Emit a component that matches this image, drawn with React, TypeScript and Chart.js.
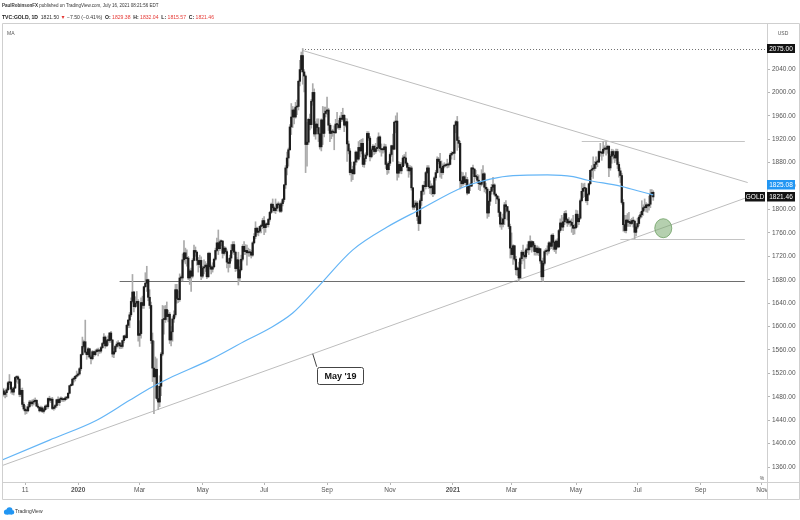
import React, { useEffect, useRef } from 'react';
import { Chart, registerables } from 'chart.js';

Chart.register(...registerables);

const FONT = '"Liberation Sans", Arial, sans-serif';

// Daily sessions, index 0 = 18 Oct 2019 ... index 455 = 16 Jul 2021
const OPEN = [
  1493,1490,1484,1487,1492,1504,1505,1493,1488,1495,
  1513,1514,1510,1484,1491,1467,1459,1456,1456,1463,1471,1468,1471,1472,1474,1464,1462,1456,1461,1455,1458,
  1464,1463,1477,1474,1476,1460,1462,1465,1475,1470,1476,1476,1475,1475,1478,1478,1486,1499,1500,1510,1511,1515,
  1517,1519,1528,1552,1566,1574,1556,1552,1562,1548,1545,1557,1552,1557,1560,1558,1558,1564,1571,1582,1567,1576,1576,
  1589,1577,1553,1557,1566,1570,1572,1567,1566,1576,1584,1581,1602,1611,1620,1643,1659,1634,1640,1643,
  1585,1588,1641,1636,1668,1674,1680,1650,1636,1576,1529,1514,1527,1477,1471,1498,1553,1612,1612,1629,1617,1621,
  1577,1591,1613,1620,1663,1648,1646,1683,1683,1714,1726,1716,1717,1683,1695,1686,1713,1730,1727,1713,1706,1713,
  1686,1700,1702,1705,1685,1725,1702,1698,1702,1715,1730,1743,1733,1745,1746,1725,1734,1728,1710,1708,1717,
  1730,1740,1727,1699,1714,1683,1697,1715,1737,1728,1730,1726,1726,1727,1722,1743,1754,1768,1761,1763,1771,1772,
  1781,1769,1775,1774,1783,1795,1809,1803,1798,1802,1809,1808,1797,1810,1817,1842,1871,1888,1902,1941,1958,1970,1958,
  1975,1976,2019,2039,2063,2035,2028,1911,1915,1954,1945,1985,2000,1929,1946,1940,1929,1907,1953,1930,1964,
  1968,1970,1944,1930,1934,1932,1931,1946,1945,1940,1956,1954,1961,1944,1950,1912,1900,1863,1868,1861,1881,1898,
  1886,1906,1900,1913,1877,1887,1893,1930,1922,1890,1902,1908,1899,1904,1906,1924,1904,1902,1902,1907,1877,1868,
  1879,1894,1909,1903,1949,1951,1862,1877,1866,1873,1888,1888,1879,1872,1866,1871,1837,1804,1807,1811,1788,
  1776,1815,1831,1841,1839,1863,1871,1839,1837,1840,1827,1854,1863,1886,1882,1871,1863,1874,1875,1876,1876,1877,1893,
  1896,1896,1944,1950,1918,1913,1849,1844,1856,1846,1851,1828,1840,1840,1871,1869,1856,1856,1850,1844,1843,
  1848,1861,1838,1835,1794,1814,1831,1838,1842,1826,1823,1818,1795,1775,1775,1784,1808,1805,1797,1771,
  1734,1723,1738,1715,1697,1700,1683,1716,1727,1722,1719,1731,1731,1745,1736,1745,1739,1728,1734,1726,1733,1712,1685,
  1708,1728,1729,1729,1743,1737,1756,1744,1732,1746,1736,1764,1777,1770,1779,1793,1783,1777,1780,1778,1773,1768,
  1769,1792,1779,1785,1815,1831,1836,1836,1815,1826,1844,1867,1869,1870,1877,1881,1881,1899,1897,1896,1903,
  1905,1903,1908,1871,1891,1899,1893,1888,1899,1877,1866,1858,1812,1774,1764,1782,1778,1779,1776,1781,1780,1761,
  1770,1776,1787,1791,1797,1803,1803,1808,1806,1809,1826,1829.38,
];

const HIGH = [
  1496,1494,1490,1495,1506,1518,1506,1496,1497,1514,
  1516,1516,1511,1494,1495,1470,1465,1463,1467,1474,1474,1475,1476,1478,1475,1468,1463,1464,1463,1461,1466,
  1467,1478,1481,1478,1479,1464,1467,1476,1480,1478,1480,1479,1477,1480,1480,1487,1499,1502,1512,1514,1516,1524,
  1521,1530,1553,1582,1577,1611,1558,1564,1563,1551,1559,1558,1560,1562,1563,1561,1566,1573,1588,1584,1578,1584,1590,
  1592,1578,1563,1568,1574,1576,1573,1571,1577,1585,1586,1604,1612,1624,1649,1689,1660,1651,1660,1646,
  1610,1649,1652,1669,1692,1703,1681,1663,1642,1589,1575,1548,1545,1498,1516,1556,1636,1635,1636,1642,1628,1624,
  1600,1617,1627,1672,1672,1661,1690,1687,1724,1747,1734,1731,1720,1698,1700,1716,1739,1736,1729,1718,1722,1719,
  1703,1714,1711,1708,1727,1727,1705,1709,1717,1734,1751,1765,1748,1748,1747,1737,1736,1731,1716,1722,1740,
  1745,1745,1729,1718,1727,1702,1722,1740,1745,1740,1739,1734,1732,1730,1745,1759,1779,1770,1768,1772,1775,1785,
  1788,1777,1777,1785,1797,1811,1818,1806,1818,1811,1813,1811,1813,1819,1843,1875,1898,1905,1945,1981,1976,1973,1983,
  1987,2021,2055,2069,2075,2039,2030,1949,1956,1963,1988,2015,2006,1950,1955,1955,1930,1955,1976,1975,1975,
  1992,1973,1947,1944,1937,1943,1954,1966,1952,1960,1966,1973,1962,1956,1955,1917,1904,1881,1874,1882,1900,1899,
  1916,1918,1920,1921,1895,1897,1933,1933,1925,1905,1911,1910,1913,1922,1931,1926,1912,1905,1912,1911,1880,1882,
  1897,1910,1929,1951,1960,1965,1882,1880,1880,1892,1894,1898,1881,1876,1875,1874,1838,1815,1815,1814,1790,
  1818,1833,1842,1848,1865,1875,1875,1849,1844,1841,1856,1867,1890,1889,1896,1883,1878,1880,1878,1886,1880,1896,1899,
  1898,1945,1952,1959,1924,1917,1864,1863,1858,1863,1855,1842,1845,1872,1876,1870,1867,1860,1859,1847,1868,
  1875,1863,1845,1838,1815,1834,1843,1855,1844,1828,1824,1822,1797,1786,1792,1812,1815,1805,1799,1775,
  1760,1740,1739,1720,1702,1710,1718,1730,1739,1728,1734,1740,1746,1755,1747,1745,1742,1738,1738,1736,1733,1713,1717,
  1731,1733,1738,1745,1745,1758,1759,1746,1748,1750,1766,1784,1790,1786,1797,1798,1785,1786,1782,1784,1790,1775,
  1799,1798,1789,1818,1845,1844,1845,1838,1828,1845,1867,1875,1890,1882,1890,1885,1900,1913,1900,1916,1909,
  1916,1910,1909,1894,1903,1902,1900,1903,1903,1881,1871,1862,1817,1790,1790,1793,1795,1783,1785,1787,1782,1772,
  1785,1790,1795,1815,1808,1818,1812,1810,1823,1834,1834,1832.04,
];

const LOW = [
  1484,1481,1478,1480,1490,1501,1486,1484,1483,1494,
  1505,1503,1480,1480,1463,1456,1450,1451,1454,1461,1465,1464,1466,1468,1463,1460,1454,1455,1453,1452,1456,
  1459,1460,1471,1470,1458,1457,1459,1462,1466,1465,1472,1472,1472,1473,1475,1477,1485,1498,1499,1505,1507,1513,
  1515,1517,1525,1551,1563,1553,1544,1548,1546,1536,1543,1549,1550,1556,1550,1554,1555,1562,1570,1563,1566,1568,1573,
  1573,1548,1547,1555,1563,1565,1562,1562,1563,1572,1578,1580,1598,1598,1617,1640,1625,1632,1635,1575,
  1566,1580,1631,1631,1667,1660,1644,1631,1571,1506,1451,1478,1474,1458,1463,1482,1550,1587,1607,1611,1608,1571,
  1567,1575,1607,1616,1640,1641,1643,1679,1678,1710,1707,1703,1680,1672,1660,1683,1712,1720,1705,1693,1701,1680,
  1683,1690,1694,1682,1684,1698,1690,1693,1700,1713,1728,1723,1730,1738,1717,1722,1725,1700,1693,1701,1712,
  1725,1723,1694,1696,1671,1677,1695,1712,1723,1723,1705,1720,1720,1717,1720,1741,1750,1757,1755,1760,1760,1767,
  1757,1761,1770,1770,1780,1793,1797,1795,1793,1797,1803,1795,1795,1806,1813,1836,1859,1874,1901,1928,1940,1946,1956,
  1962,1970,2011,2035,2014,2001,1863,1874,1911,1936,1939,1978,1925,1920,1934,1916,1903,1900,1911,1924,1958,
  1962,1935,1916,1921,1925,1902,1930,1938,1937,1937,1950,1951,1933,1941,1882,1895,1859,1848,1851,1860,1876,1881,
  1884,1890,1895,1873,1872,1882,1891,1918,1883,1888,1893,1894,1896,1900,1900,1898,1891,1896,1898,1870,1860,1862,
  1875,1891,1882,1902,1931,1850,1855,1862,1861,1873,1875,1876,1866,1855,1860,1833,1800,1800,1803,1781,1764,
  1775,1807,1825,1826,1835,1861,1836,1827,1825,1822,1825,1850,1862,1878,1855,1853,1860,1871,1873,1871,1872,1876,1886,
  1894,1885,1931,1901,1906,1835,1837,1841,1843,1842,1825,1827,1832,1839,1861,1847,1853,1845,1834,1832,1840,
  1846,1830,1828,1785,1788,1807,1826,1834,1823,1810,1816,1788,1770,1766,1770,1774,1794,1782,1767,1717,
  1717,1706,1712,1688,1687,1677,1683,1707,1712,1699,1716,1726,1723,1731,1727,1730,1722,1722,1722,1721,1708,1679,1677,
  1705,1724,1722,1725,1732,1733,1731,1728,1725,1734,1735,1761,1765,1764,1774,1777,1771,1774,1771,1761,1757,1758,
  1767,1770,1774,1783,1813,1820,1822,1812,1808,1824,1842,1856,1853,1866,1870,1873,1880,1891,1884,1891,1900,
  1893,1896,1856,1867,1879,1886,1880,1883,1870,1855,1846,1809,1763,1761,1760,1771,1771,1771,1774,1770,1750,1755,
  1767,1772,1784,1787,1790,1799,1796,1795,1799,1803,1822,1815.57,
];

const CLOSE = [
  1490,1484,1487,1492,1504,1505,1493,1488,1495,1513,
  1514,1510,1484,1491,1467,1459,1456,1456,1463,1471,1468,1471,1472,1474,1464,1462,1456,1461,1455,1458,1464,
  1463,1477,1474,1476,1460,1462,1465,1475,1470,1476,1476,1475,1475,1478,1478,1486,1499,1500,1510,1511,1515,1517,
  1519,1528,1552,1566,1574,1556,1552,1562,1548,1545,1557,1552,1557,1560,1558,1558,1564,1571,1582,1567,1576,1576,1589,
  1577,1553,1557,1566,1570,1572,1567,1566,1576,1584,1581,1602,1611,1620,1643,1659,1634,1640,1643,1585,
  1588,1641,1636,1668,1674,1680,1650,1636,1576,1529,1514,1527,1477,1471,1498,1553,1612,1612,1629,1617,1621,1577,
  1591,1613,1620,1663,1648,1646,1683,1683,1714,1726,1716,1717,1683,1695,1686,1713,1730,1727,1713,1706,1713,1686,
  1700,1702,1705,1685,1725,1702,1698,1702,1715,1730,1743,1733,1745,1746,1725,1734,1728,1710,1708,1717,1730,
  1740,1727,1699,1714,1683,1697,1715,1737,1728,1730,1726,1726,1727,1722,1743,1754,1768,1761,1763,1771,1772,1781,
  1769,1775,1774,1783,1795,1809,1803,1798,1802,1809,1808,1797,1810,1817,1842,1871,1888,1902,1941,1958,1970,1958,1975,
  1976,2019,2039,2063,2035,2028,1911,1915,1954,1945,1985,2000,1929,1946,1940,1929,1907,1953,1930,1964,1968,
  1970,1944,1930,1934,1932,1931,1946,1945,1940,1956,1954,1961,1944,1950,1912,1900,1863,1868,1861,1881,1898,1886,
  1906,1900,1913,1877,1887,1893,1930,1922,1890,1902,1908,1899,1904,1906,1924,1904,1902,1902,1907,1877,1868,1879,
  1894,1909,1903,1949,1951,1862,1877,1866,1873,1888,1888,1879,1872,1866,1871,1837,1804,1807,1811,1788,1776,
  1815,1831,1841,1839,1863,1871,1839,1837,1840,1827,1854,1863,1886,1882,1871,1863,1874,1875,1876,1876,1877,1893,1896,
  1896,1944,1950,1918,1913,1849,1844,1856,1846,1851,1828,1840,1840,1871,1869,1856,1856,1850,1844,1843,1848,
  1861,1838,1835,1794,1814,1831,1838,1842,1826,1823,1818,1795,1775,1775,1784,1808,1805,1797,1771,1734,
  1723,1738,1715,1697,1700,1683,1716,1727,1722,1719,1731,1731,1745,1736,1745,1739,1728,1734,1726,1733,1712,1685,1708,
  1728,1729,1729,1743,1737,1756,1744,1732,1746,1736,1764,1777,1770,1779,1793,1783,1777,1780,1778,1773,1768,1769,
  1792,1779,1785,1815,1831,1836,1836,1815,1826,1844,1867,1869,1870,1877,1881,1881,1899,1897,1896,1903,1905,
  1903,1908,1871,1891,1899,1893,1888,1899,1877,1866,1858,1812,1774,1764,1782,1778,1779,1776,1781,1780,1761,1770,
  1776,1787,1791,1797,1803,1803,1808,1806,1809,1826,1829,1821.46,
];

// MA line (session index -> price)
const MA_IDX = [0, 33, 66, 89, 105, 117, 145, 171, 187, 203, 220, 245, 269, 292, 322, 341, 357, 381, 399, 409, 432, 444, 455];
const MA_VAL = [1372, 1406, 1440, 1474, 1497, 1512, 1543, 1577, 1597, 1623, 1666, 1731, 1770, 1800, 1838, 1852, 1858, 1859, 1856, 1850, 1840, 1832, 1825];

const PRICE_TICKS = [1360, 1400, 1440, 1480, 1520, 1560, 1600, 1640, 1680, 1720, 1760, 1800, 1840, 1880, 1920, 1960, 2000, 2040];
const TIME_TICK_IDX = [16, 53, 96, 140, 183, 227, 271, 315, 356, 401, 444, 488, 531];
const TIME_TICK_LABELS = ['11', '2020', 'Mar', 'May', 'Jul', 'Sep', 'Nov', '2021', 'Mar', 'May', 'Jul', 'Sep', 'Nov'];

// drawings (session index, price)
const UPPER_TREND = [[209.5, 2072], [521, 1846]];
const LOWER_TREND = [[0.5, 1363], [520, 1820]];
const LEVELS = [
  { from: 82, to: 519, price: 1678, color: '#6e6e6e' },
  { from: 405, to: 519, price: 1917, color: '#c4c4c4' },
  { from: 432, to: 519, price: 1750, color: '#c4c4c4' },
];
const ATH = { from: 209.5, price: 2075, label: '2075.00' };
const TARGET = { x: 462, price: 1768 };
const CALLOUT = { x: 217, text: "May '19" };
const MA_LAST = 1825.08;
const LAST_PRICE = 1821.46;

function runs(ctx: CanvasRenderingContext2D, x: number, y: number, parts: any[]) {
  for (const p of parts) {
    ctx.font = `${p.b ? 'bold ' : ''}${p.s}px ${FONT}`;
    ctx.fillStyle = p.c;
    ctx.fillText(p.t, x, y);
    x += ctx.measureText(p.t).width;
  }
}

function box(ctx: CanvasRenderingContext2D, x: number, yc: number, w: number, h: number, bg: string, text: string) {
  ctx.fillStyle = bg;
  ctx.fillRect(x, Math.round(yc - h / 2), w, h);
  ctx.fillStyle = '#ffffff';
  ctx.font = `6.5px ${FONT}`;
  ctx.textAlign = 'center';
  ctx.textBaseline = 'middle';
  ctx.fillText(text, x + w / 2, Math.round(yc - h / 2) + h / 2 + 0.5);
}

const overlay = {
  id: 'overlay',
  beforeDatasetsDraw(chart: any) {
    const { ctx, chartArea: a } = chart;
    const xs = chart.scales.x, ys = chart.scales.y;
    const px = (v: number) => xs.getPixelForValue(v);
    const py = (v: number) => ys.getPixelForValue(v);
    ctx.save();
    ctx.beginPath();
    ctx.rect(a.left, a.top, a.right - a.left, a.bottom - a.top);
    ctx.clip();
    ctx.lineWidth = 1;
    ctx.strokeStyle = '#bdbdbd';
    for (const t of [UPPER_TREND, LOWER_TREND]) {
      ctx.beginPath();
      ctx.moveTo(px(t[0][0]), py(t[0][1]));
      ctx.lineTo(px(t[1][0]), py(t[1][1]));
      ctx.stroke();
    }
    for (const l of LEVELS) {
      ctx.strokeStyle = l.color;
      ctx.lineWidth = 1.2;
      const yy = Math.round(py(l.price)) + 0.5;
      ctx.beginPath();
      ctx.moveTo(px(l.from), yy);
      ctx.lineTo(px(l.to), yy);
      ctx.stroke();
    }
    // all-time-high dotted line
    ctx.strokeStyle = '#707070';
    ctx.lineWidth = 1;
    ctx.setLineDash([1, 2]);
    const ya = Math.round(py(ATH.price)) + 0.5;
    ctx.beginPath();
    ctx.moveTo(px(ATH.from), ya);
    ctx.lineTo(a.right, ya);
    ctx.stroke();
    ctx.setLineDash([]);
    // target ellipse
    ctx.fillStyle = 'rgba(120,170,110,0.55)';
    ctx.strokeStyle = 'rgba(110,160,100,0.8)';
    ctx.beginPath();
    ctx.ellipse(px(TARGET.x), py(TARGET.price), 8.5, 9.5, 0, 0, Math.PI * 2);
    ctx.fill();
    ctx.stroke();
    ctx.restore();
  },
  afterDraw(chart: any) {
    const { ctx, chartArea: a } = chart;
    const xs = chart.scales.x, ys = chart.scales.y;
    const px = (v: number) => xs.getPixelForValue(v);
    const py = (v: number) => ys.getPixelForValue(v);
    ctx.save();
    // hide overflow of time labels under the price scale
    ctx.fillStyle = '#ffffff';
    ctx.fillRect(a.right + 0.5, a.bottom + 0.5, 40, 17);
    // frame
    ctx.strokeStyle = '#cfcfcf';
    ctx.lineWidth = 1;
    ctx.beginPath();
    ctx.moveTo(2.5, 23.5); ctx.lineTo(799.5, 23.5); ctx.lineTo(799.5, 499.5); ctx.lineTo(2.5, 499.5); ctx.closePath();
    ctx.moveTo(2.5, a.bottom + 0.5); ctx.lineTo(799.5, a.bottom + 0.5);
    ctx.moveTo(a.right + 0.5, 23.5); ctx.lineTo(a.right + 0.5, 499.5);
    ctx.stroke();

    // header
    ctx.textAlign = 'left';
    ctx.textBaseline = 'middle';
    runs(ctx, 2, 6, [
      { t: 'PaulRobinsonFX', b: true, s: 4.5, c: '#333' },
      { t: ' published on TradingView.com, July 16, 2021 08:21:56 EDT', s: 4.5, c: '#333' },
    ]);
    const red = '#e53935';
    runs(ctx, 2, 17.5, [
      { t: 'TVC:GOLD, 1D', b: true, s: 5.1, c: '#222' },
      { t: '  1821.50 ', s: 5.1, c: '#333' },
      { t: '▼', s: 5.1, c: red },
      { t: ' −7.50 (−0.41%)  ', s: 5.1, c: '#333' },
      { t: 'O:', b: true, s: 5.1, c: '#222' },
      { t: ' 1829.38  ', s: 5.1, c: red },
      { t: 'H:', b: true, s: 5.1, c: '#222' },
      { t: ' 1832.04  ', s: 5.1, c: red },
      { t: 'L:', b: true, s: 5.1, c: '#222' },
      { t: ' 1815.57  ', s: 5.1, c: red },
      { t: 'C:', b: true, s: 5.1, c: '#222' },
      { t: ' 1821.46', s: 5.1, c: red },
    ]);
    ctx.font = `5px ${FONT}`;
    ctx.fillStyle = '#555';
    ctx.fillText('MA', 7, 34);
    ctx.textAlign = 'center';
    ctx.fillText('USD', 783, 34);
    ctx.fillText('%', 762, 479);

    // price labels on the scale
    box(ctx, a.right, py(ATH.price), 28, 9, '#131313', ATH.label);
    const yl = py(LAST_PRICE);
    box(ctx, a.right, yl - 12, 28, 9.5, '#2196f3', MA_LAST.toFixed(2));
    box(ctx, a.right, yl, 28, 9.5, '#131313', LAST_PRICE.toFixed(2));
    box(ctx, a.right - 22, yl, 20, 9.5, '#131313', 'GOLD');

    // callout on the long-term trend line
    const t0 = LOWER_TREND[0], t1 = LOWER_TREND[1];
    const ty = t0[1] + (CALLOUT.x - t0[0]) * (t1[1] - t0[1]) / (t1[0] - t0[0]);
    const ax = px(CALLOUT.x), ay = py(ty);
    ctx.strokeStyle = '#444';
    ctx.lineWidth = 1;
    ctx.beginPath();
    ctx.moveTo(ax, ay); ctx.lineTo(ax + 4, ay + 13);
    ctx.stroke();
    ctx.fillStyle = '#ffffff';
    ctx.beginPath();
    ctx.roundRect(Math.round(ax + 4) + 0.5, Math.round(ay + 13) + 0.5, 46, 17, 2);
    ctx.fill();
    ctx.stroke();
    ctx.fillStyle = '#111';
    ctx.font = `bold 9px ${FONT}`;
    ctx.textAlign = 'center';
    ctx.fillText(CALLOUT.text, Math.round(ax + 4) + 23.5, Math.round(ay + 13) + 9.5);

    // TradingView logo
    ctx.fillStyle = '#2196f3';
    ctx.beginPath();
    ctx.arc(6.5, 512, 2.6, 0, Math.PI * 2);
    ctx.arc(9.5, 510.2, 3, 0, Math.PI * 2);
    ctx.arc(12, 512.2, 2.3, 0, Math.PI * 2);
    ctx.fill();
    ctx.fillRect(6.5, 511.5, 5.5, 3);
    ctx.textAlign = 'left';
    ctx.fillStyle = '#333';
    ctx.font = `5px ${FONT}`;
    ctx.fillText('TradingView', 15, 511.5);
    ctx.restore();
  },
};

export default function App() {
  const ref = useRef<HTMLCanvasElement>(null);
  useEffect(() => {
    if (!ref.current) return;
    const wicks = CLOSE.map((_, i) => ({ x: i, y: [LOW[i], HIGH[i]] }));
    const bodies = CLOSE.map((c, i) => ({ x: i, y: [OPEN[i], c] }));
    const ma = MA_IDX.map((x, k) => ({ x, y: MA_VAL[k] }));
    const chart = new Chart(ref.current, {
      type: 'bar',
      data: {
        datasets: [
          { type: 'line', data: ma, borderColor: '#64b5f6', borderWidth: 1.2, pointRadius: 0, cubicInterpolationMode: 'monotone', order: 0 } as any,
          { type: 'bar', data: bodies, backgroundColor: '#1e1e1e', barThickness: 1.6, minBarLength: 1, grouped: false, order: 1 } as any,
          { type: 'bar', data: wicks, backgroundColor: '#ababab', barThickness: 1, grouped: false, order: 2 } as any,
        ],
      },
      options: {
        responsive: false,
        animation: false,
        events: [],
        layout: { padding: { top: 24, left: 3, right: 0, bottom: 21 } },
        plugins: { legend: { display: false }, tooltip: { enabled: false }, title: { display: false } },
        scales: {
          x: {
            type: 'linear',
            min: 0.5,
            max: 534.5,
            offset: false,
            grid: { drawOnChartArea: false, drawTicks: true, tickLength: 3, color: '#b5b5b5', offset: false },
            border: { display: true, color: '#cfcfcf' },
            afterBuildTicks: (s: any) => { s.ticks = TIME_TICK_IDX.map((v) => ({ value: v })); },
            afterFit: (s: any) => { s.height = 17; },
            ticks: {
              autoSkip: false,
              maxRotation: 0,
              padding: 1.5,
              color: '#555',
              font: (c: any) => ({ family: FONT, size: 6.5, weight: /^\d{4}$/.test(TIME_TICK_LABELS[c.index] || '') ? 'bold' : 'normal' }),
              callback: (_v: any, i: number) => TIME_TICK_LABELS[i],
            },
          },
          y: {
            type: 'linear',
            position: 'right',
            min: 1334.4,
            max: 2116.9,
            grid: { drawOnChartArea: false, drawTicks: true, tickLength: 3, color: '#b5b5b5' },
            border: { display: true, color: '#cfcfcf' },
            afterBuildTicks: (s: any) => { s.ticks = PRICE_TICKS.map((v) => ({ value: v })); },
            afterFit: (s: any) => { s.width = 33; },
            ticks: {
              autoSkip: false,
              padding: 2,
              color: '#555',
              font: { family: FONT, size: 6.5 },
              callback: (v: any) => Number(v).toFixed(2),
            },
          },
        },
      } as any,
      plugins: [overlay],
    });
    return () => chart.destroy();
  }, []);
  return (
    <div style={{ position: 'absolute', left: 0, top: 0, width: 800, height: 520, background: '#fff' }}>
      <canvas ref={ref} width={800} height={520} style={{ width: 800, height: 520, display: 'block' }} />
    </div>
  );
}
